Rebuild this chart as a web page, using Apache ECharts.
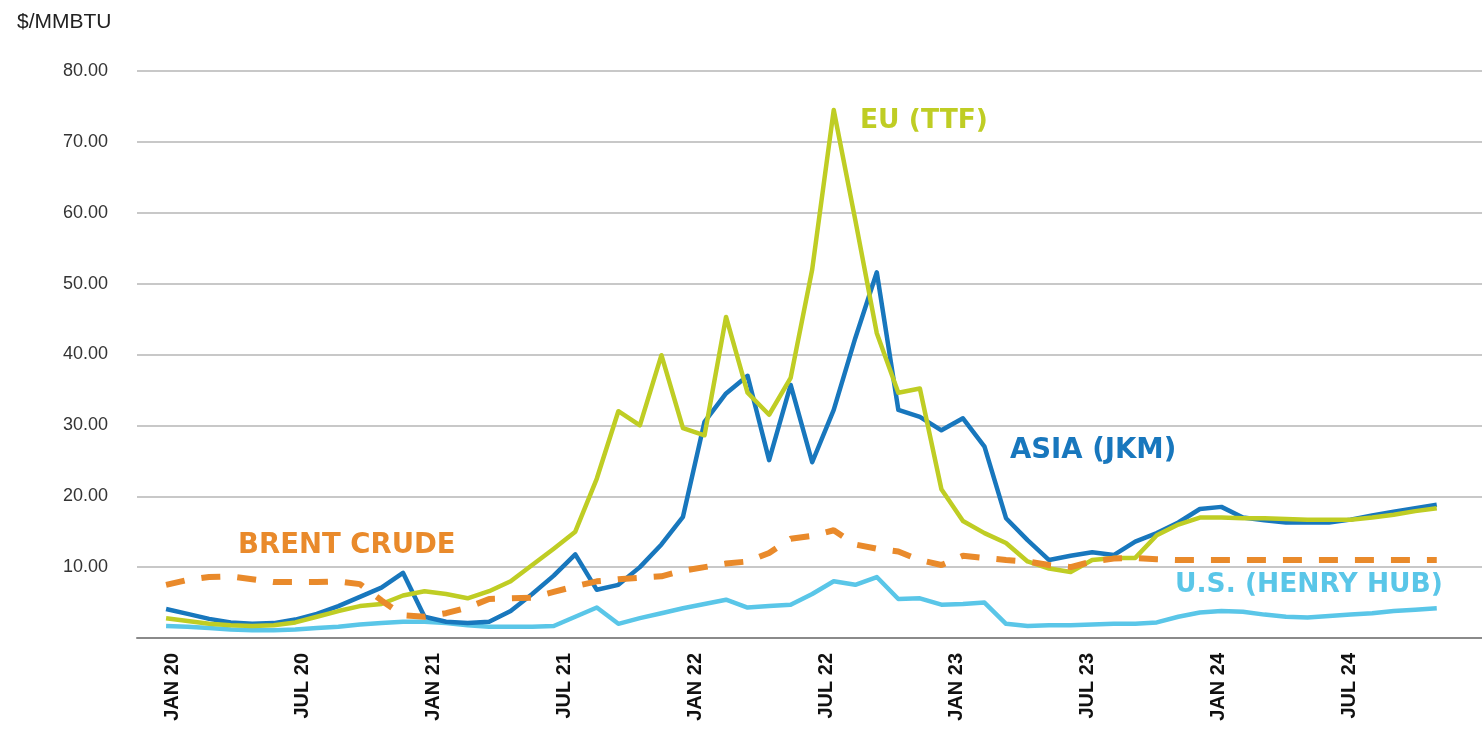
<!DOCTYPE html>
<html>
<head>
<meta charset="utf-8">
<script src="https://cdn.jsdelivr.net/npm/echarts@6/dist/echarts.min.js"></script>
<style>
html,body{margin:0;padding:0;background:#fff;}
#chart{width:1482px;height:736px;}
</style>
</head>
<body>
<div id="chart"></div>
<script>
// Months Jan 2020 .. Dec 2024
const months = [
 '2020-01','2020-02','2020-03','2020-04','2020-05','2020-06','2020-07','2020-08','2020-09','2020-10','2020-11','2020-12',
 '2021-01','2021-02','2021-03','2021-04','2021-05','2021-06','2021-07','2021-08','2021-09','2021-10','2021-11','2021-12',
 '2022-01','2022-02','2022-03','2022-04','2022-05','2022-06','2022-07','2022-08','2022-09','2022-10','2022-11','2022-12',
 '2023-01','2023-02','2023-03','2023-04','2023-05','2023-06','2023-07','2023-08','2023-09','2023-10','2023-11','2023-12',
 '2024-01','2024-02','2024-03','2024-04','2024-05','2024-06','2024-07','2024-08','2024-09','2024-10','2024-11','2024-12'
];
const tickLabels = ['JAN 20','JUL 20','JAN 21','JUL 21','JAN 22','JUL 22','JAN 23','JUL 23','JAN 24','JUL 24'];
const tickMonths = [0,6,12,18,24,30,36,42,48,54];

const jkm = [4.1,3.4,2.7,2.2,2.0,2.1,2.6,3.4,4.5,5.8,7.1,9.2,
 3.0,2.3,2.1,2.3,3.8,6.2,8.8,11.8,6.8,7.5,10.0,13.2,
 17.1,30.5,34.5,37.0,25.1,35.7,24.8,32.2,42.3,51.6,32.2,31.2,
 29.3,31.0,27.0,16.9,13.8,11.0,11.6,12.1,11.7,13.6,14.8,16.3,
 18.2,18.5,17.0,16.6,16.3,16.3,16.3,16.7,17.3,17.8,18.3,18.8];
const ttf = [2.8,2.4,2.0,1.8,1.7,1.8,2.2,3.0,3.8,4.5,4.8,6.0,
 6.6,6.2,5.6,6.6,8.0,10.3,12.6,15.0,22.5,32.0,30.0,39.9,
 29.6,28.6,45.3,34.6,31.5,36.7,52.0,74.5,59.0,43.0,34.6,35.2,
 21.0,16.5,14.8,13.4,10.8,9.8,9.3,11.0,11.3,11.3,14.5,16.0,
 17.0,17.0,16.9,16.9,16.8,16.7,16.7,16.7,17.0,17.4,17.9,18.3];
const henryHub = [1.7,1.6,1.4,1.2,1.1,1.1,1.2,1.4,1.6,1.9,2.1,2.3,
 2.3,2.1,1.8,1.6,1.6,1.6,1.7,3.0,4.3,2.0,2.8,3.5,
 4.2,4.8,5.4,4.3,4.5,4.7,6.2,8.0,7.5,8.6,5.5,5.6,
 4.7,4.8,5.0,2.0,1.7,1.8,1.8,1.9,2.0,2.0,2.2,3.0,
 3.6,3.8,3.7,3.3,3.0,2.9,3.1,3.3,3.5,3.8,4.0,4.2];
const brent = [7.5,8.2,8.6,8.7,8.3,7.9,7.9,7.9,8.0,7.6,5.3,3.2,
 3.0,3.5,4.3,5.5,5.6,5.7,6.5,7.3,8.0,8.3,8.5,8.7,
 9.5,10.0,10.5,10.8,12.0,14.0,14.4,15.2,13.2,12.6,12.2,11.0,
 10.3,11.6,11.3,11.0,10.8,10.3,10.0,10.8,11.2,11.3,11.1,11.0,
 11.0,11.0,11.0,11.0,11.0,11.0,11.0,11.0,11.0,11.0,11.0,11.0];

const C_TTF = '#bfcd24', C_JKM = '#1877bd', C_HH = '#5ac6e8', C_BRENT = '#e98a2b';
const pairs = arr => arr.map((v, i) => [i, v]);

const chart = echarts.init(document.getElementById('chart'), null, {renderer: 'canvas'});
chart.setOption({
  animation: false,
  backgroundColor: '#ffffff',
  title: {
    text: '$/MMBTU', left: 12, top: 7,
    textStyle: {fontFamily: 'Liberation Sans', fontSize: 21, fontWeight: 'normal', color: '#222'}
  },
  grid: {left: 137, right: 0, top: 71, bottom: 98, containLabel: false},
  xAxis: [
    {
      type: 'value', min: -1.35, max: 61.1,
      splitLine: {show: false},
      axisLine: {show: true, lineStyle: {color: '#8a8a8a', width: 2}},
      axisTick: {show: false},
      axisLabel: {show: false}
    },
    {
      // label axis (month ticks as placed in the original artwork)
      type: 'value', min: -1.606, max: 60.09, position: 'bottom',
      splitLine: {show: false},
      axisLine: {show: false},
      axisTick: {show: false},
      axisLabel: {
        customValues: tickMonths,
        rotate: 90, margin: 15,
        fontFamily: 'Liberation Sans', fontWeight: 'bold', fontSize: 20, color: '#111',
        formatter: v => tickLabels[tickMonths.indexOf(Math.round(v))] || ''
      }
    }
  ],
  yAxis: {
    type: 'value', min: 0, max: 80, interval: 10,
    axisLine: {show: false}, axisTick: {show: false},
    splitLine: {lineStyle: {color: '#c8c8c8', width: 2}},
    axisLabel: {
      margin: 29, fontFamily: 'Liberation Sans', fontSize: 18, color: '#333',
      formatter: v => v === 0 ? '' : v.toFixed(2)
    }
  },
  series: [
    {name: 'U.S. (HENRY HUB)', type: 'line', xAxisIndex: 0, data: pairs(henryHub), showSymbol: false, symbol: 'none',
     lineStyle: {color: C_HH, width: 4.5, join: 'round'}, z: 2},
    {name: 'ASIA (JKM)', type: 'line', xAxisIndex: 0, data: pairs(jkm), showSymbol: false, symbol: 'none',
     lineStyle: {color: C_JKM, width: 4.5, join: 'round'}, z: 3},
    {name: 'EU (TTF)', type: 'line', xAxisIndex: 0, data: pairs(ttf), showSymbol: false, symbol: 'none',
     lineStyle: {color: C_TTF, width: 4.5, join: 'round'}, z: 4},
    {name: 'BRENT CRUDE', type: 'line', xAxisIndex: 0, data: pairs(brent), showSymbol: false, symbol: 'none',
     lineStyle: {color: C_BRENT, width: 6, type: [19, 17], cap: 'butt'}, z: 5}
  ],
  graphic: [
    {type: 'text', left: 860, top: 108, style: {text: 'EU (TTF)', fill: C_TTF, font: 'bold 26.5px "DejaVu Sans"'}},
    {type: 'text', left: 1010, top: 437, style: {text: 'ASIA (JKM)', fill: C_JKM, font: 'bold 27.5px "DejaVu Sans"'}},
    {type: 'text', left: 238, top: 532, style: {text: 'BRENT CRUDE', fill: C_BRENT, font: 'bold 27.5px "DejaVu Sans"'}},
    {type: 'text', left: 1175, top: 572, style: {text: 'U.S. (HENRY HUB)', fill: C_HH, font: 'bold 26.5px "DejaVu Sans"'}}
  ]
});
</script>
</body>
</html>
